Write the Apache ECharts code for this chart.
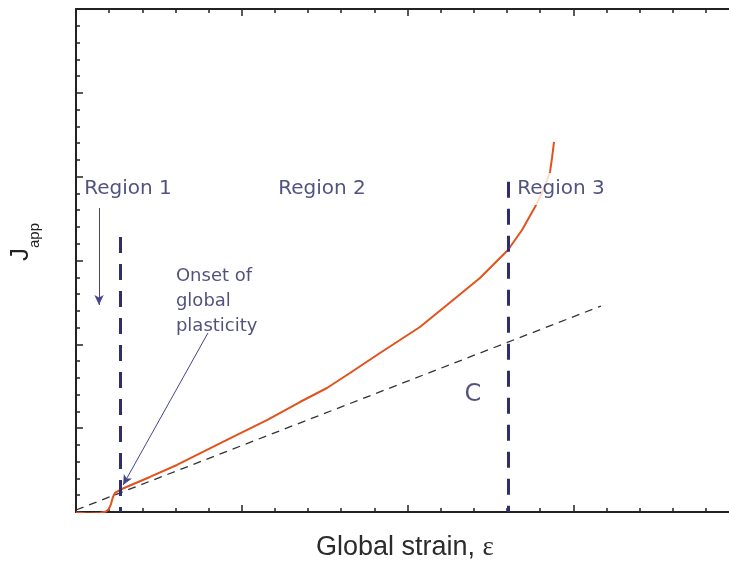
<!DOCTYPE html>
<html>
<head>
<meta charset="utf-8">
<title>J_app vs global strain</title>
<script src="https://cdn.jsdelivr.net/npm/echarts@6/dist/echarts.min.js"></script>
<style>
html, body { margin: 0; padding: 0; background: #fff; }
#chart { width: 729px; height: 564px; }
</style>
</head>
<body>
<div id="chart"></div>
<script>
var strain = [0, 0.072, 0.145, 0.181, 0.199, 0.211, 0.223, 0.235, 0.259, 0.283, 0.446, 0.609,
    0.790, 0.947, 1.152, 1.351, 1.514, 1.653, 1.834, 2.075, 2.238, 2.437, 2.606, 2.691,
    2.769, 2.805, 2.836, 2.860, 2.872, 2.884];
var japp = [-0.006, -0.018, -0.012, 0.006, 0.036, 0.095, 0.179, 0.227, 0.256, 0.280, 0.418, 0.561,
    0.740, 0.895, 1.097, 1.312, 1.479, 1.658, 1.897, 2.207, 2.469, 2.791, 3.125, 3.364,
    3.638, 3.781, 3.925, 4.056, 4.223, 4.414];

// dashed linear fit
var fitStrain = [0, 3.167];
var fitJapp = [0.024, 2.457];

// region boundaries (vertical dashed lines) and how high they go
var boundaryStrain = [0.265, 2.606];
var boundaryTop = [3.28, 3.94];

// arrows: [x1, y1, x2, y2]
var arrowRegion1 = [0.139, 3.626, 0.139, 2.469];
var arrowOnset = [0.796, 2.135, 0.284, 0.322];

// text annotations
var noteText = ['Region 1', 'Region 2', 'Region 3', 'C', 'Onset of\nglobal\nplasticity'];
var noteStrain = [0.314, 1.484, 2.926, 2.395, 0.603];
var noteJapp = [3.853, 3.853, 3.853, 1.396, 2.517];

var navy = '#27275f';

var chart = echarts.init(document.getElementById('chart'));

var curve = [];
for (var i = 0; i < strain.length; i++) {
    curve.push([strain[i], japp[i]]);
}
var fit = [];
for (var i = 0; i < fitStrain.length; i++) {
    fit.push([fitStrain[i], fitJapp[i]]);
}

var boundaryLines = [];
for (var i = 0; i < boundaryStrain.length; i++) {
    boundaryLines.push([
        { coord: [boundaryStrain[i], boundaryTop[i]] },
        { coord: [boundaryStrain[i], 0] }
    ]);
}
var arrowLines = [arrowRegion1, arrowOnset].map(function (a) {
    return [{ coord: [a[0], a[1]] }, { coord: [a[2], a[3]] }];
});

var notes = [];
for (var i = 0; i < noteText.length; i++) {
    var item = { value: [noteStrain[i], noteJapp[i]], name: noteText[i] };
    if (noteText[i] == 'C') {
        item.label = { fontSize: 24 };
    } else if (noteText[i] == 'Region 3') {
        item.label = { fontSize: 20, backgroundColor: '#fff', padding: [6, 3, 6, 3] };
    } else if (i == 4) {
        item.label = { position: [0, 0], align: 'left', verticalAlign: 'middle', lineHeight: 25 };
    } else {
        item.label = { fontSize: 20 };
    }
    notes.push(item);
}

// shared axis look: ticks inside, no labels
function xAx(pos) {
    return {
        type: 'value', position: pos, min: 0, max: 4, interval: 1,
        axisLine: { onZero: false, lineStyle: { color: '#222', width: 2 } },
        axisTick: { inside: true, length: 7, lineStyle: { color: '#222', width: 1.5 } },
        minorTick: { show: true, splitNumber: 5, length: 4, lineStyle: { color: '#222', width: 1.5 } },
        axisLabel: { show: false },
        splitLine: { show: false }
    };
}
function yAx(pos) {
    return {
        type: 'value', position: pos, min: 0, max: 6, interval: 1,
        axisLine: { onZero: false, lineStyle: { color: '#222', width: 2 } },
        axisTick: { inside: true, length: 7, lineStyle: { color: '#222', width: 1.5 } },
        minorTick: { show: true, splitNumber: 5, length: 4, lineStyle: { color: '#222', width: 1.5 } },
        axisLabel: { show: false },
        splitLine: { show: false }
    };
}

var xBottom = xAx('bottom');
xBottom.name = 'Global strain, {e|ε}';
xBottom.nameLocation = 'middle';
xBottom.nameGap = 22;
xBottom.nameTextStyle = {
    fontFamily: 'Liberation Sans', fontSize: 27, color: '#2b2b2b', padding: [0, 5, 0, 0],
    rich: { e: { fontFamily: 'Liberation Serif', fontSize: 27, color: '#2b2b2b' } }
};

var option = {
    animation: false,
    backgroundColor: '#fff',
    // the right edge of the frame sits just past the canvas
    grid: { left: 76, top: 9, width: 663, height: 503, outerBoundsMode: 'none' },
    xAxis: [xBottom, xAx('top')],
    yAxis: [yAx('left'), yAx('right')],
    graphic: [{
        type: 'text', x: 25, y: 242, rotation: Math.PI / 2,
        style: {
            text: '{j|J}{s|app}', align: 'center', verticalAlign: 'middle',
            rich: {
                j: { fontFamily: 'Liberation Sans', fontSize: 26, fill: '#222', lineHeight: 34, verticalAlign: 'top' },
                s: { fontFamily: 'Liberation Sans', fontSize: 15, fill: '#222', lineHeight: 34, verticalAlign: 'bottom' }
            }
        }
    }],
    series: [
        {
            // fit line + boundaries + arrows
            type: 'line', data: fit, symbol: 'none', silent: true, z: 2,
            lineStyle: { color: '#333', width: 1.3, type: [8, 6] },
            markLine: {
                silent: true, symbol: 'none', label: { show: false },
                data: boundaryLines.map(function (l) {
                    l[0].lineStyle = { color: '#2e2e6c', width: 3, type: [16, 11], cap: 'butt' };
                    return l;
                }).concat(arrowLines.map(function (l) {
                    l[1].symbol = 'arrow';
                    l[1].symbolSize = [7, 10];
                    l[0].lineStyle = { color: '#45458e', width: 1, type: 'solid' };
                    return l;
                }))
            }
        },
        {
            type: 'line', data: curve, symbol: 'none', silent: true, z: 3,
            lineStyle: { color: '#e2521c', width: 2 }
        },
        {
            type: 'scatter', data: notes, symbolSize: 0, silent: true, z: 5,
            label: {
                show: true, position: 'inside', formatter: '{b}',
                fontFamily: 'DejaVu Sans', fontSize: 18, color: navy
            }
        }
    ]
};
chart.setOption(option);
</script>
</body>
</html>
